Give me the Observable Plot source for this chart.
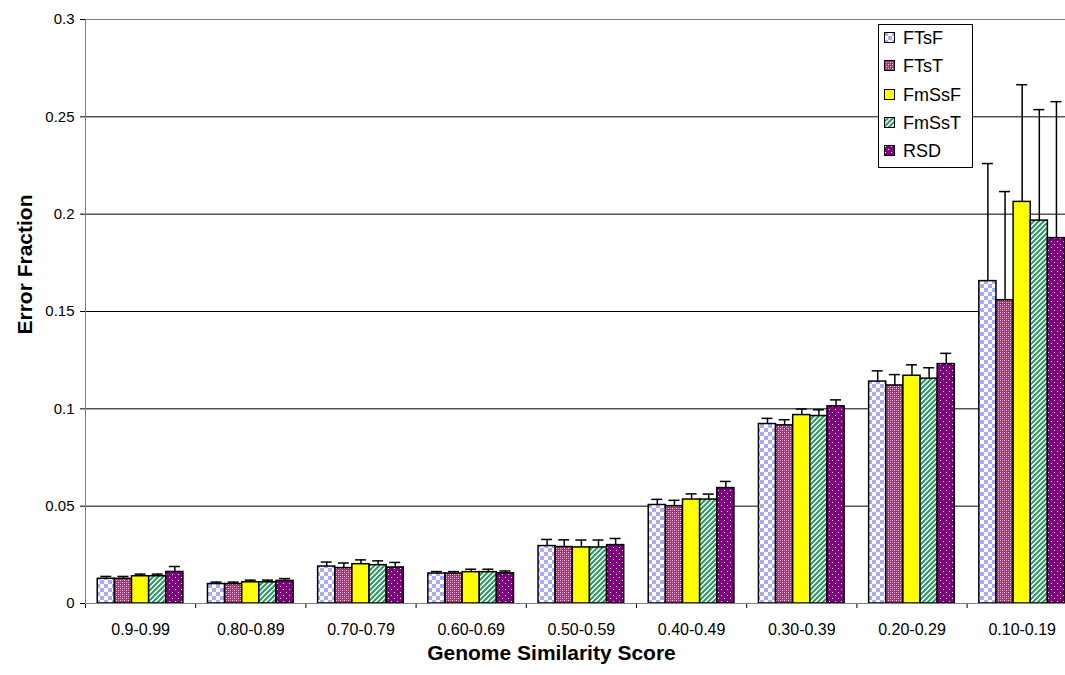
<!DOCTYPE html>
<html><head><meta charset="utf-8">
<script src="https://cdn.jsdelivr.net/npm/d3@7"></script>
<script src="https://cdn.jsdelivr.net/npm/@observablehq/plot@0.6"></script>
<style>
html,body{margin:0;padding:0;background:#fff;overflow:hidden;}
#wrap{position:relative;width:1065px;height:675px;font-family:"Liberation Sans",Arial,Helvetica,sans-serif;}
#legend{position:absolute;left:878px;top:24px;width:93px;height:142px;border:1px solid #000;background:#fff;}
#legend .sw{position:absolute;left:5px;width:11px;height:11px;}
#legend .lb{position:absolute;left:24px;height:20px;line-height:20px;font-size:18px;color:#000;white-space:nowrap;}
</style>
</head><body>
<svg id="defs" width="0" height="0" style="position:absolute"><defs></defs></svg>
<div id="wrap"><div id="chart"></div><div id="legend"></div></div>
<script>
const categories = ["0.9-0.99","0.80-0.89","0.70-0.79","0.60-0.69","0.50-0.59","0.40-0.49","0.30-0.39","0.20-0.29","0.10-0.19"];
const series = ["FTsF","FTsT","FmSsF","FmSsT","RSD"];
const FTsF  = [0.0127, 0.0100, 0.0190, 0.0154, 0.0295, 0.0506, 0.0922, 0.1140, 0.1656];
const FTsT  = [0.0127, 0.0100, 0.0182, 0.0154, 0.0290, 0.0500, 0.0915, 0.1120, 0.1558];
const FmSsF = [0.0140, 0.0109, 0.0202, 0.0161, 0.0288, 0.0534, 0.0968, 0.1170, 0.2063];
const FmSsT = [0.0140, 0.0109, 0.0197, 0.0161, 0.0288, 0.0534, 0.0963, 0.1155, 0.1967];
const RSD   = [0.0162, 0.0116, 0.0185, 0.0155, 0.0300, 0.0593, 0.1013, 0.1230, 0.1877];
const FTsF_err  = [0.0012, 0.0010, 0.0023, 0.0010, 0.0034, 0.0029, 0.0029, 0.0055, 0.0604];
const FTsT_err  = [0.0012, 0.0010, 0.0026, 0.0010, 0.0037, 0.0030, 0.0029, 0.0056, 0.0558];
const FmSsF_err = [0.0011, 0.0011, 0.0022, 0.0015, 0.0038, 0.0029, 0.0031, 0.0056, 0.0602];
const FmSsT_err = [0.0011, 0.0011, 0.0022, 0.0015, 0.0038, 0.0028, 0.0032, 0.0056, 0.0570];
const RSD_err   = [0.0028, 0.0012, 0.0026, 0.0012, 0.0034, 0.0034, 0.0033, 0.0055, 0.0701];
const yTicks = [0, 0.05, 0.1, 0.15, 0.2, 0.25, 0.3];

// pattern tiles (SVG content), one per series
const tiles = {
  FTsF: {w: 8, h: 8, body: '<rect width="8" height="8" fill="#fff"/><rect width="4" height="4" fill="#aaaaff"/><rect x="4" y="4" width="4" height="4" fill="#aaaaff"/>'},
  FTsT: {w: 4, h: 4, body: '<rect width="4" height="4" fill="#a03575"/><rect width="1" height="1" fill="#fad2e8"/><rect x="2" y="2" width="1" height="1" fill="#fad2e8"/><rect x="2" y="0" width="1" height="1" fill="#d77fb1"/><rect x="0" y="2" width="1" height="1" fill="#d77fb1"/>'},
  FmSsF: null,
  FmSsT: {w: 5, h: 5, body: '<rect width="5" height="5" fill="#fff"/><path d="M-1,6 L6,-1 M-3,3 L3,-3 M2,8 L8,2" stroke="#339966" stroke-width="2.2"/>'},
  RSD: {w: 6, h: 6, body: '<rect width="6" height="6" fill="#800080"/><rect x="1" y="1" width="1" height="1" fill="#fff"/><rect x="4" y="4" width="1" height="1" fill="#fff"/>'}
};
const solid = {FmSsF: "#ffff00"};
let defsHTML = "";
for (const s of series) {
  const t = tiles[s];
  if (!t) continue;
  defsHTML += `<pattern id="p${s}" width="${t.w}" height="${t.h}" patternUnits="userSpaceOnUse">${t.body}</pattern>`;
}
document.querySelector("#defs defs").innerHTML = defsHTML;
const fills = series.map(s => solid[s] || `url(#p${s})`);

const values = [FTsF, FTsT, FmSsF, FmSsT, RSD];
const errors = [FTsF_err, FTsT_err, FmSsF_err, FmSsT_err, RSD_err];
const OFF = 0.111, BW = 0.1555, CAP = 0.05;
const rows = [];
categories.forEach((c, i) => series.forEach((s, k) => rows.push({
  cat: c, i, k, series: s, value: values[k][i], err: errors[k][i]
})));
const x1 = d => d.i + OFF + BW * d.k;
const cx = d => x1(d) + BW / 2;
const topv = d => d.value + d.err;
const font = '"Liberation Sans", Arial, Helvetica, sans-serif';

const chart = Plot.plot({
  width: 1065, height: 675,
  marginLeft: 85, marginRight: 0, marginTop: 19, marginBottom: 72,
  style: {fontFamily: font, fontSize: "15px", background: "transparent", color: "#000"},
  x: {domain: [0, 9], range: [85, 85 + 9 * 110.2], ticks: d3.range(0, 10), tickFormat: () => "", tickSize: 5, label: null},
  y: {domain: [0, 0.3], ticks: yTicks, tickFormat: d => d === 0 ? "0" : String(+d.toFixed(2)), tickSize: 5, tickPadding: 6, label: null},
  color: {domain: series, range: fills},
  marks: [
    Plot.ruleY(yTicks.filter(t => t > 0 && t < 0.3), {y: d => d, stroke: "#000", strokeWidth: 1}),
    Plot.ruleY([0.3], {stroke: "#808080", strokeWidth: 1}),
    Plot.rect(rows, {x1: x1, x2: d => x1(d) + BW, y1: () => 0, y2: "value", fill: "series", stroke: "#000", strokeWidth: 1.5}),
    Plot.ruleX(rows, {x: cx, y1: "value", y2: topv, stroke: "#000", strokeWidth: 1.5}),
    Plot.ruleY(rows, {y: topv, x1: d => cx(d) - CAP, x2: d => cx(d) + CAP, stroke: "#000", strokeWidth: 1.5}),
    Plot.ruleX([0], {stroke: "#808080", strokeWidth: 1}),
    Plot.ruleY([0], {stroke: "#808080", strokeWidth: 1}),
    Plot.text(categories, {x: (d, i) => i + 0.5, frameAnchor: "bottom", lineAnchor: "middle", dy: 26, fontSize: 16, fill: "#000"}),
    Plot.text(["Genome Similarity Score"], {frameAnchor: "bottom", lineAnchor: "middle", textAnchor: "middle", dx: -24, dy: 50, fontSize: 21, fontWeight: "bold", fill: "#000"}),
    Plot.text(["Error Fraction"], {frameAnchor: "left", lineAnchor: "middle", textAnchor: "middle", rotate: -90, dx: -60, dy: -47, fontSize: 21, fontWeight: "bold", fill: "#000"})
  ]
});
document.getElementById("chart").appendChild(chart);

const legend = document.getElementById("legend");
series.forEach((s, k) => {
  const top = 7 + 28.25 * k;
  const sw = document.createElementNS("http://www.w3.org/2000/svg", "svg");
  sw.setAttribute("class", "sw");
  sw.setAttribute("width", 11); sw.setAttribute("height", 11);
  sw.style.top = Math.round(top) + "px";
  sw.innerHTML = `<rect x="0" y="0" width="11" height="11" fill="${fills[k]}"/><rect x="0.5" y="0.5" width="10" height="10" fill="none" stroke="#000" stroke-width="1"/>`;
  legend.appendChild(sw);
  const lb = document.createElement("div");
  lb.className = "lb";
  lb.style.top = Math.round(top - 4) + "px";
  lb.textContent = s;
  legend.appendChild(lb);
});
</script>
</body></html>
